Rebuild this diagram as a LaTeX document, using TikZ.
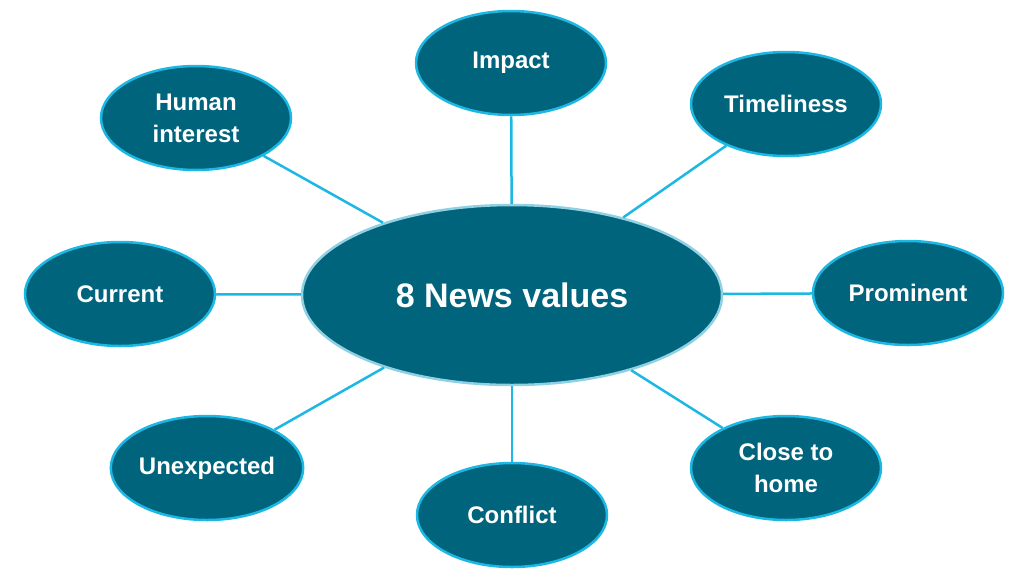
\documentclass[tikz,border=0pt]{standalone}
\usepackage{fontspec}
\setmainfont{Liberation Sans}
\usetikzlibrary{shapes.geometric}
\definecolor{teal}{HTML}{00647D}
\definecolor{rim}{HTML}{1CB8E3}
\definecolor{hubrim}{HTML}{8FD0E3}

\begin{document}
\begin{tikzpicture}[x=1pt, y=-1pt, font=\bfseries]
    \tikzstyle{value} = [ellipse, draw=rim, fill=teal, line width=2.5, text=white, align=center,
                         inner sep=0, minimum width=190, minimum height=104,
                         font=\fontsize{24}{32}\selectfont\bfseries]
    \tikzstyle{hub}   = [value, draw=hubrim, minimum width=420, minimum height=180,
                         font=\fontsize{34}{40}\selectfont\bfseries]
    \tikzstyle{link}  = [draw=rim, line width=2.5]

    \useasboundingbox (0,0) rectangle (1024,576);

    \node[hub]   (nv)  at (512,295) {8 News values};
    \node[value] (imp) at (511,63)  {Impact};
    \node[value] (tim) at (786,104) {Timeliness};
    \node[value] (pro) at (908,293) {Prominent};
    \node[value] (cth) at (786,468) {Close to\\home};
    \node[value] (con) at (512,515) {Conflict};
    \node[value] (une) at (207,468) {Unexpected};
    \node[value] (cur) at (120,294) {Current};
    \node[value] (hum) at (196,118) {Human\\interest};

    \foreach \v in {imp,tim,pro,cth,con,une,cur,hum}
      \draw[link] (nv) -- (\v);
\end{tikzpicture}
\end{document}
